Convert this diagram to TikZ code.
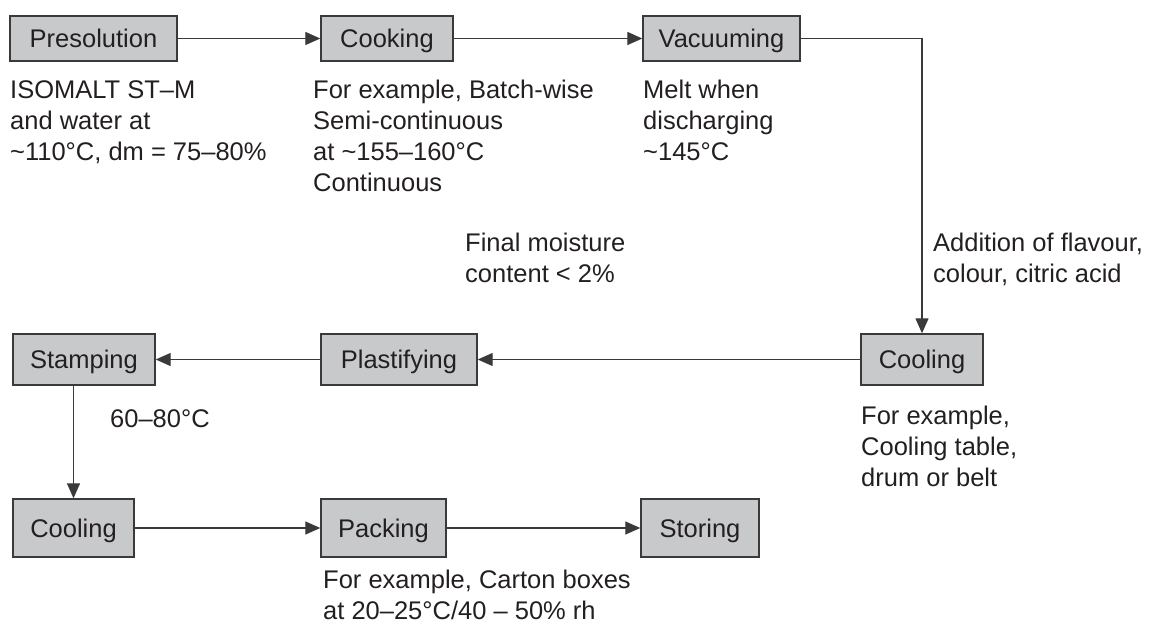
\documentclass[tikz,border=0pt]{standalone}
\usepackage{fontspec}
\setmainfont{Liberation Sans}
\usetikzlibrary{arrows.meta}
\definecolor{boxfill}{HTML}{C8C9CB}
\definecolor{boxline}{HTML}{3A3A3A}
\definecolor{ink}{HTML}{231F20}
\begin{document}
\begin{tikzpicture}[x=1pt,y=-1pt,
  every node/.style={text=ink,font=\fontsize{25.5}{31}\selectfont},
  stepbox/.style={draw=boxline,fill=boxfill,line width=1.4pt,inner sep=0pt,anchor=center,text height=18pt,text depth=0pt},
  note/.style={anchor=north west,align=left,inner sep=0pt},
  flow/.style={draw=boxline,line width=1.3pt,-{Triangle[length=15pt,width=13pt]}}]
\useasboundingbox (0,0) rectangle (1153,620);
% boxes
\node[stepbox,minimum width=167pt,minimum height=45pt] (pre) at (93.5,38.5) {Presolution};
\node[stepbox,minimum width=132pt,minimum height=45pt] (cook) at (387,38.5) {Cooking};
\node[stepbox,minimum width=157pt,minimum height=45pt] (vac) at (721.5,38.5) {Vacuuming};
\node[stepbox,minimum width=122pt,minimum height=51pt] (coolr) at (922,359.5) {Cooling};
\node[stepbox,minimum width=156pt,minimum height=51pt] (plast) at (399,359.5) {Plastifying};
\node[stepbox,minimum width=142pt,minimum height=51pt] (stamp) at (84,359.5) {Stamping};
\node[stepbox,minimum width=121pt,minimum height=58pt] (cooll) at (73.5,528) {Cooling};
\node[stepbox,minimum width=125pt,minimum height=58pt] (pack) at (383.5,528) {Packing};
\node[stepbox,minimum width=118pt,minimum height=58pt] (store) at (700,528) {Storing};
% connectors
\draw[flow] (pre) -- (cook);
\draw[flow] (cook) -- (vac);
\draw[flow] (vac.east) -| (coolr.north);
\draw[flow] (coolr) -- (plast);
\draw[flow] (plast) -- (stamp);
\draw[flow] (stamp.south -| cooll.north) -- (cooll.north);
\draw[flow] (cooll) -- (pack);
\draw[flow] (pack) -- (store);
% notes (y = first baseline - strut height 21.7)
\node[note] (n1) at (10,76.3) {\strut ISOMALT ST–M\\and water at\\\textasciitilde110°C, dm = 75–80\%};
\node[note] (n2) at (313,76.3) {\strut For example, Batch-wise\\Semi-continuous\\at \textasciitilde155–160°C\\Continuous};
\node[note] (n3) at (643,76.3) {\strut Melt when\\discharging\\\textasciitilde145°C};
\node[note] (n4) at (465,229.3) {\strut Final moisture\\content < 2\%};
\node[note] (n5) at (933,229.3) {\strut Addition of flavour,\\colour, citric acid};
\node[note] (n6) at (861,402.3) {\strut For example,\\Cooling table,\\drum or belt};
\node[note] (n7) at (110,405.3) {\strut 60–80°C};
\node[note] (n8) at (323,566.3) {\strut For example, Carton boxes\\at 20–25°C/40 – 50\% rh};
\end{tikzpicture}
\end{document}
